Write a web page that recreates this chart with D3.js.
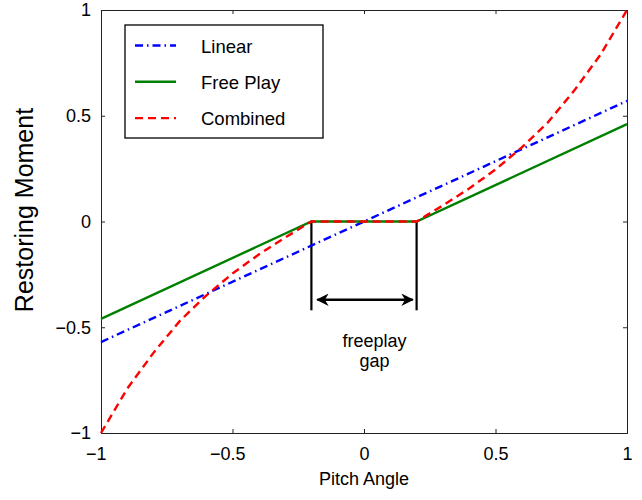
<!DOCTYPE html>
<html lang="en">
<head>
    <meta charset="UTF-8">
    <title>Restoring Moment vs Pitch Angle</title>
    <script src="https://d3js.org/d3.v7.min.js"></script>
    <style>
        body { margin: 0; background: #fff; }
        text { font-family: "Liberation Sans", Arial, sans-serif; }
    </style>
</head>
<body>
    <svg id="chart"></svg>
    <script>
        // values
        let linearX = [-1, 1];
        let linearY = [-0.57, 0.57];
        let freeX = [-1, -0.2, 0.2, 1];
        let freeY = [-0.46, 0, 0, 0.46];
        let combX = [-1, -0.9, -0.8, -0.7, -0.6, -0.5, -0.4, -0.3, -0.2, 0.2, 0.3, 0.4, 0.5, 0.6, 0.7, 0.8, 0.9, 1];
        let combY = [-1, -0.79, -0.62, -0.47, -0.35, -0.246, -0.156, -0.076, 0, 0, 0.076, 0.156, 0.246, 0.35, 0.47, 0.62, 0.79, 1];
        let tickVals = [-1, -0.5, 0, 0.5, 1];
        let tickLabels = ["\u22121", "\u22120.5", "0", "0.5", "1"];
        let gapX = [-0.2, 0.2];

        let width = 642, height = 500;
        let margin = {left: 101, right: 15, top: 10, bottom: 67};
        let svg = d3.select("#chart").attr("width", width).attr("height", height);

        let x = d3.scaleLinear().domain([-1, 1]).range([margin.left, width - margin.right]);
        let y = d3.scaleLinear().domain([-1, 1]).range([height - margin.bottom, margin.top]);

        let fmt = d => tickLabels[tickVals.indexOf(d)];

        // axes, ticks pointing inward on all four sides
        let xb = svg.append("g").attr("transform", "translate(0," + y(-1) + ")")
            .call(d3.axisBottom(x).tickValues(tickVals).tickSize(-4).tickPadding(14).tickFormat(fmt));
        svg.append("g").attr("transform", "translate(0," + y(1) + ")")
            .call(d3.axisTop(x).tickValues(tickVals).tickSize(-4).tickFormat(""));
        svg.append("g").attr("transform", "translate(" + x(-1) + ",0)")
            .call(d3.axisLeft(y).tickValues(tickVals).tickSize(-4).tickPadding(10).tickFormat(fmt));
        svg.append("g").attr("transform", "translate(" + x(1) + ",0)")
            .call(d3.axisRight(y).tickValues(tickVals).tickSize(-4).tickFormat(""));
        svg.selectAll(".domain").attr("stroke", "#222");
        svg.selectAll(".tick line").attr("stroke", "#222");
        svg.selectAll(".tick text").attr("font-size", 18).attr("fill", "#000")
            .attr("font-family", "Liberation Sans, Arial, sans-serif");
        // minus sign hangs to the left of the centred number
        xb.selectAll(".tick text").filter(d => d < 0).attr("dx", "-0.29em");

        let line = d3.line().x(d => x(d[0])).y(d => y(d[1]));
        let series = [
            {name: "Linear", xs: linearX, ys: linearY, color: "#0000ff", dash: "8,4,1.5,4"},
            {name: "Free Play", xs: freeX, ys: freeY, color: "#008000", dash: null},
            {name: "Combined", xs: combX, ys: combY, color: "#ff0000", dash: "8,5"}
        ];

        // freeplay gap markers
        gapX.forEach(g => {
            svg.append("line")
                .attr("x1", x(g)).attr("x2", x(g))
                .attr("y1", y(0)).attr("y2", y(-0.42))
                .attr("stroke", "#000").attr("stroke-width", 2.2);
        });

        series.forEach(s => {
            svg.append("path")
                .datum(s.xs.map((v, i) => [v, s.ys[i]]))
                .attr("d", line)
                .attr("fill", "none")
                .attr("stroke", s.color)
                .attr("stroke-width", 2.4)
                .attr("stroke-dasharray", s.dash);
        });

        // double arrow
        let defs = svg.append("defs");
        defs.append("marker").attr("id", "head")
            .attr("viewBox", "0 0 10 10").attr("refX", 9).attr("refY", 5)
            .attr("markerWidth", 5).attr("markerHeight", 5).attr("orient", "auto-start-reverse")
            .append("path").attr("d", "M0,0 L10,5 L0,10 L3,5 Z").attr("fill", "#000");
        svg.append("line")
            .attr("x1", x(-0.2) + 6).attr("x2", x(0.2) - 4)
            .attr("y1", y(-0.37)).attr("y2", y(-0.37))
            .attr("stroke", "#000").attr("stroke-width", 2.5)
            .attr("marker-start", "url(#head)").attr("marker-end", "url(#head)");

        svg.append("text").attr("x", x(0.04)).attr("y", 347).attr("text-anchor", "middle")
            .attr("font-size", 18).text("freeplay");
        svg.append("text").attr("x", x(0.04)).attr("y", 367).attr("text-anchor", "middle")
            .attr("font-size", 18).text("gap");

        // legend
        let lg = svg.append("g").attr("transform", "translate(125,25)");
        lg.append("rect").attr("width", 198).attr("height", 113)
            .attr("fill", "#fff").attr("stroke", "#000").attr("stroke-width", 1.3);
        series.forEach((s, i) => {
            let ly = 20.5 + i * 36.3;
            lg.append("line").attr("x1", 10).attr("x2", 51).attr("y1", ly).attr("y2", ly)
                .attr("stroke", s.color).attr("stroke-width", 2.4).attr("stroke-dasharray", s.dash);
            lg.append("text").attr("x", 76).attr("y", ly + 7).attr("font-size", 18.5).text(s.name);
        });

        // axis titles
        svg.append("text").attr("x", x(0)).attr("y", 485).attr("text-anchor", "middle")
            .attr("font-size", 18).text("Pitch Angle");
        svg.append("text").attr("transform", "translate(33,210) rotate(-90)")
            .attr("text-anchor", "middle").attr("font-size", 25).text("Restoring Moment");
    </script>
</body>
</html>
